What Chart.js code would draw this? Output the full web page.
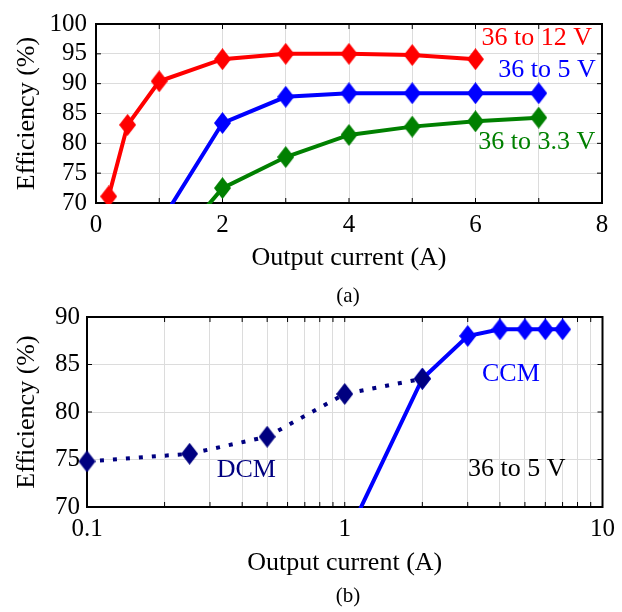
<!DOCTYPE html>
<html>
<head>
<meta charset="utf-8">
<script src="https://cdn.jsdelivr.net/npm/chart.js@4.4.0/dist/chart.umd.min.js"></script>
<style>
  body { margin: 0; background: #fff; width: 622px; height: 612px; position: relative; overflow: hidden;
         font-family: "Liberation Serif", "Times New Roman", serif; }
  .box { position: absolute; left: 0; width: 622px; }
  #boxA { top: 0; height: 280px; }
  #boxB { top: 290px; height: 295px; }
  .cap { position: absolute; left: 318px; width: 60px; text-align: center; font-size: 21px; line-height: 20px; color: #000; }
</style>
</head>
<body>
<div class="box" id="boxA"><canvas id="chartA" width="622" height="280"></canvas></div>
<div class="box" id="boxB"><canvas id="chartB" width="622" height="295"></canvas></div>
<div class="cap" style="top:285px">(a)</div>
<div class="cap" style="top:585px">(b)</div>

<script>
// ---- (a) efficiency vs output current, linear x ----
const x12 = [0.2, 0.5, 1, 2, 3, 4, 5, 6];
const eff12 = [71.1, 83.1, 90.4, 94.1, 95.0, 95.0, 94.8, 94.1];
const x5 = [1, 2, 3, 4, 5, 6, 7];
const eff5 = [66.4, 83.4, 87.8, 88.4, 88.4, 88.4, 88.4];
const x33 = [1, 2, 3, 4, 5, 6, 7];
const eff33 = [60.0, 72.5, 77.7, 81.4, 82.8, 83.7, 84.3];

const ticksAx = [0, 1, 2, 3, 4, 5, 6, 7, 8];
const labelsAx = ['0', '', '2', '', '4', '', '6', '', '8'];
const ticksAy = [70, 75, 80, 85, 90, 95, 100];

// ---- (b) 36 to 5 V, log x ----
const xDcm = [0.1, 0.25, 0.5, 1, 2];
const effDcm = [74.8, 75.6, 77.4, 81.9, 83.5];
const xCcm = [1, 2, 3, 4, 5, 6, 7];
const effCcm = [66.4, 83.5, 88.0, 88.7, 88.7, 88.7, 88.7];

const ticksBx = [0.1, 0.2, 0.3, 0.4, 0.5, 0.6, 0.7, 0.8, 0.9, 1, 2, 3, 4, 5, 6, 7, 8, 9, 10];
const labelsBx = ['0.1', '', '', '', '', '', '', '', '', '1', '', '', '', '', '', '', '', '', '10'];
const ticksBy = [70, 75, 80, 85, 90];

Chart.defaults.font.family = "'Liberation Serif', 'Times New Roman', serif";
Chart.defaults.font.size = 25;
Chart.defaults.color = '#000';

const pts = (xs, ys) => xs.map((x, i) => ({ x: x, y: ys[i] }));

// diamond marker, taller than wide like the original
function diamond(color) {
    const c = document.createElement('canvas');
    c.width = 17; c.height = 22;
    const g = c.getContext('2d');
    g.fillStyle = color;
    g.beginPath();
    g.moveTo(8.5, 0); g.lineTo(17, 11); g.lineTo(8.5, 22); g.lineTo(0, 11);
    g.closePath();
    g.fill();
    return c;
}

function series(data, color, dash) {
    return {
        data: data,
        borderColor: color,
        backgroundColor: color,
        borderWidth: 4,
        borderDash: dash || [],
        pointStyle: diamond(color),
        pointRadius: 9,
        pointHoverRadius: 9,
        tension: 0,
        clip: { left: false, top: 10, right: 10, bottom: 1 }
    };
}

// black box with inward tick marks, plus the text notes
const framePlugin = {
    id: 'frame',
    beforeDatasetsDraw(chart) {
        const { ctx, chartArea: a, scales } = chart;
        ctx.save();
        ctx.strokeStyle = '#000';
        ctx.lineWidth = 1;
        ctx.beginPath();
        scales.x.ticks.forEach(t => {
            const px = scales.x.getPixelForValue(t.value);
            ctx.moveTo(px, a.bottom); ctx.lineTo(px, a.bottom - 5);
            ctx.moveTo(px, a.top); ctx.lineTo(px, a.top + 5);
        });
        scales.y.ticks.forEach(t => {
            const py = scales.y.getPixelForValue(t.value);
            ctx.moveTo(a.left, py); ctx.lineTo(a.left + 5, py);
            ctx.moveTo(a.right, py); ctx.lineTo(a.right - 5, py);
        });
        ctx.stroke();
        ctx.lineWidth = 2;
        ctx.strokeRect(a.left, a.top, a.right - a.left, a.bottom - a.top);
        ctx.restore();
    },
    afterDatasetsDraw(chart, args, opts) {
        const { ctx, scales } = chart;
        ctx.save();
        ctx.font = "26px 'Liberation Serif', 'Times New Roman', serif";
        ctx.textAlign = 'center';
        ctx.textBaseline = 'middle';
        (opts.notes || []).forEach(n => {
            ctx.fillStyle = n.color;
            ctx.fillText(n.text, scales.x.getPixelForValue(n.x), scales.y.getPixelForValue(n.y));
        });
        ctx.restore();
    }
};

function axes(xType, xTicks, xLabels, yTicks, yWidth, yPad, xHeight) {
    return {
        x: {
            type: xType,
            min: xTicks[0],
            max: xTicks[xTicks.length - 1],
            afterBuildTicks: axis => { axis.ticks = xTicks.map(v => ({ value: v })); },
            afterFit: axis => { axis.height = xHeight; },
            ticks: {
                autoSkip: false, maxRotation: 0, padding: 7,
                callback: (v, i) => xLabels[i]
            },
            grid: { color: '#dcdcdc', lineWidth: 1, drawTicks: false },
            border: { display: false },
            title: { display: true, text: 'Output current (A)', font: { size: 26 }, padding: { top: 0, bottom: 6 } }
        },
        y: {
            min: yTicks[0],
            max: yTicks[yTicks.length - 1],
            afterBuildTicks: axis => { axis.ticks = yTicks.map(v => ({ value: v })); },
            afterFit: axis => { axis.width = yWidth; },
            ticks: { autoSkip: false, padding: yPad, callback: v => String(v) },
            grid: { color: '#dcdcdc', lineWidth: 1, drawTicks: false },
            border: { display: false },
            title: { display: true, text: 'Efficiency (%)', font: { size: 26 }, padding: { top: 12, bottom: 0 } }
        }
    };
}

new Chart(document.getElementById('chartA'), {
    type: 'line',
    data: {
        datasets: [
            series(pts(x12, eff12), '#ff0000'),
            series(pts(x5, eff5), '#0000ff'),
            series(pts(x33, eff33), '#008000')
        ]
    },
    options: {
        responsive: false,
        animation: false,
        layout: { padding: { top: 13, right: 20, left: 0, bottom: 0 } },
        scales: axes('linear', ticksAx, labelsAx, ticksAy, 96, 9, 77),
        plugins: {
            legend: { display: false },
            tooltip: { enabled: false },
            frame: {
                notes: [
                    { text: '36 to 12 V', x: 6.97, y: 97.6, color: '#ff0000' },
                    { text: '36 to 5 V', x: 7.13, y: 92.3, color: '#0000ff' },
                    { text: '36 to 3.3 V', x: 6.97, y: 80.2, color: '#008000' }
                ]
            }
        }
    },
    plugins: [framePlugin]
});

new Chart(document.getElementById('chartB'), {
    type: 'line',
    data: {
        datasets: [
            series(pts(xDcm, effDcm), '#000080', [4, 9]),
            series(pts(xCcm, effCcm), '#0000ff')
        ]
    },
    options: {
        responsive: false,
        animation: false,
        layout: { padding: { top: 27, right: 15, left: 0, bottom: 0 } },
        scales: axes('logarithmic', ticksBx, labelsBx, ticksBy, 87, 7, 78),
        plugins: {
            legend: { display: false },
            tooltip: { enabled: false },
            frame: {
                notes: [
                    { text: 'DCM', x: 0.415, y: 73.9, color: '#000080' },
                    { text: 'CCM', x: 4.41, y: 84.0, color: '#0000ff' },
                    { text: '36 to 5 V', x: 4.65, y: 74.0, color: '#000000' }
                ]
            }
        }
    },
    plugins: [framePlugin]
});
</script>
</body>
</html>
